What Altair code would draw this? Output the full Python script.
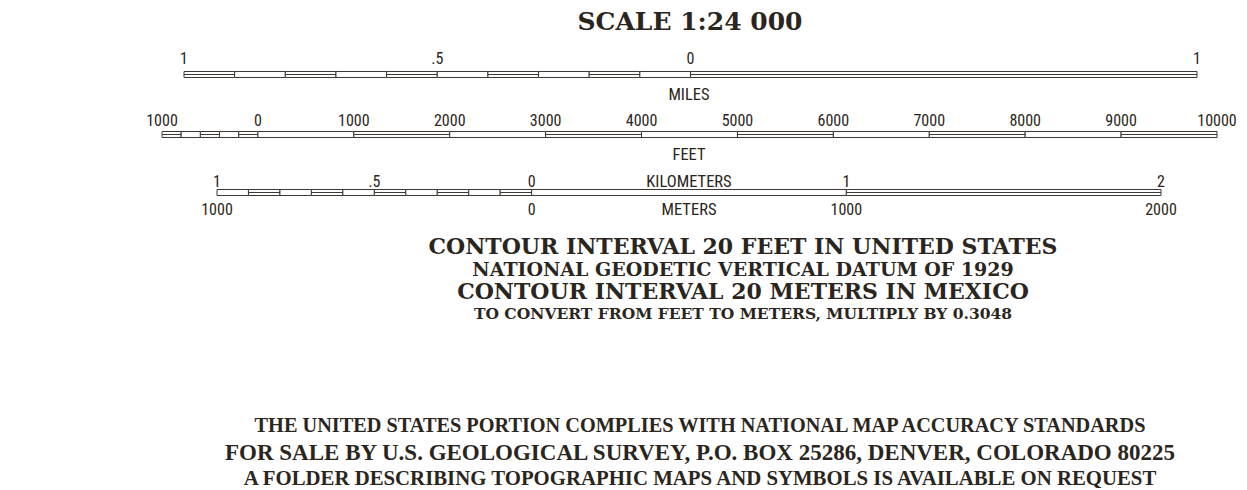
import altair as alt
import pandas as pd

# ------------------------------------------------------------------ data
MILE_BREAKS = [-1.0, -0.9, -0.8, -0.7, -0.6, -0.5, -0.4, -0.3, -0.2, -0.1, 0.0, 1.0]
MILE_DOUBLE = [1, 0, 1, 0, 1, 0, 1, 0, 1, 0, 1]
MILE_TICKS = [-1.0, -0.5, 0.0, 1.0]
MILE_LABELS = ["1", ".5", "0", "1"]

FEET_BREAKS = [-1000, -800, -600, -400, -200, 0, 1000, 2000, 3000, 4000,
               5000, 6000, 7000, 8000, 9000, 10000]
FEET_DOUBLE = [1, 0, 1, 0, 1, 0, 1, 0, 1, 0, 1, 0, 1, 0, 1]
FEET_TICKS = [-1000, 0, 1000, 2000, 3000, 4000, 5000, 6000, 7000, 8000, 9000, 10000]
FEET_LABELS = ["1000", "0", "1000", "2000", "3000", "4000", "5000", "6000",
               "7000", "8000", "9000", "10000"]

KM_BREAKS = [-1.0, -0.9, -0.8, -0.7, -0.6, -0.5, -0.4, -0.3, -0.2, -0.1, 0.0, 1.0, 2.0]
KM_DOUBLE = [0, 1, 0, 1, 0, 1, 0, 1, 0, 1, 0, 1]
KM_TICKS = [-1.0, -0.5, 0.0, 1.0, 2.0]
KM_LABELS = ["1", ".5", "0", "1", "2"]

M_TICKS = [-1000, 0, 1000, 2000]
M_LABELS = ["1000", "0", "1000", "2000"]

TITLE = "SCALE 1:24 000"
UNIT_NAMES = ["MILES", "FEET", "KILOMETERS", "METERS"]
NOTES = [
    "CONTOUR INTERVAL 20 FEET IN UNITED STATES",
    "NATIONAL GEODETIC VERTICAL DATUM OF 1929",
    "CONTOUR INTERVAL 20 METERS IN MEXICO",
    "TO CONVERT FROM FEET TO METERS, MULTIPLY BY 0.3048",
]
FOOTER = [
    "THE UNITED STATES PORTION COMPLIES WITH NATIONAL MAP ACCURACY STANDARDS",
    "FOR SALE BY U.S. GEOLOGICAL SURVEY, P.O. BOX 25286, DENVER, COLORADO 80225",
    "A FOLDER DESCRIBING TOPOGRAPHIC MAPS AND SYMBOLS IS AVAILABLE ON REQUEST",
]

# ------------------------------------------------------------------ style
INK = "#2b2520"
LINE = "#3d3833"
NARROW = "'Liberation Sans Narrow', 'Roboto Condensed', 'DejaVu Sans Condensed', 'Arial Narrow', sans-serif"
SERIF_B = "'DejaVu Serif', serif"
FOOT_FONT = "'Liberation Serif', serif"


def scale_bar(breaks, double, domain, rng, top, bottom):
    seg = pd.DataFrame({"a": breaks[:-1], "b": breaks[1:], "double": double})
    sc = alt.Scale(domain=domain, range=rng)
    base = alt.Chart(seg)
    rect = base.mark_rect(fill="white", stroke=LINE, strokeWidth=1).encode(
        x=alt.X("a:Q", scale=sc, axis=None),
        x2="b:Q",
        y=alt.value(top),
        y2=alt.value(bottom),
    )
    mid = base.transform_filter("datum.double == 1").mark_rule(
        color=LINE, strokeWidth=1
    ).encode(
        x=alt.X("a:Q", scale=sc, axis=None),
        x2="b:Q",
        y=alt.value((top + bottom) / 2),
    )
    return [rect, mid]


def tick_labels(ticks, labels, domain, rng, baseline_y, size=16):
    sc = alt.Scale(domain=domain, range=rng)
    df = pd.DataFrame({"v": ticks, "t": labels})
    return alt.Chart(df).mark_text(
        font=NARROW, fontSize=size, color=INK, baseline="alphabetic", align="center"
    ).encode(
        x=alt.X("v:Q", scale=sc, axis=None),
        y=alt.value(baseline_y),
        text="t:N",
    )


def centered_text(txt, x, y, font, size, weight="normal"):
    return alt.Chart(pd.DataFrame({"t": [txt]})).mark_text(
        font=font, fontSize=size, fontWeight=weight, color=INK,
        baseline="alphabetic", align="center",
    ).encode(x=alt.value(x), y=alt.value(y), text="t:N")


MILE_DOM, MILE_RNG = [-1.0, 1.0], [176, 1189]
FEET_DOM, FEET_RNG = [-1000, 10000], [154, 1209]
KM_DOM, KM_RNG = [-1.0, 2.0], [209, 1153]
M_DOM = [-1000, 2000]

layers = []
layers += scale_bar(MILE_BREAKS, MILE_DOUBLE, MILE_DOM, MILE_RNG, 63.5, 69.5)
layers.append(tick_labels(MILE_TICKS, MILE_LABELS, MILE_DOM, MILE_RNG, 56))
layers += scale_bar(FEET_BREAKS, FEET_DOUBLE, FEET_DOM, FEET_RNG, 123.5, 129.5)
layers.append(tick_labels(FEET_TICKS, FEET_LABELS, FEET_DOM, FEET_RNG, 118))
layers += scale_bar(KM_BREAKS, KM_DOUBLE, KM_DOM, KM_RNG, 181.5, 187.5)
layers.append(tick_labels(KM_TICKS, KM_LABELS, KM_DOM, KM_RNG, 179))
layers.append(tick_labels(M_TICKS, M_LABELS, M_DOM, KM_RNG, 207))

# unit names
for name, yb in zip(UNIT_NAMES, [92, 152, 179, 207]):
    layers.append(centered_text(name, 681, yb, NARROW, 16.5))

# title
layers.append(centered_text(TITLE, 682, 22, SERIF_B, 25, "bold"))

# notes
for txt, yb, sz in zip(NOTES, [246, 268, 291, 310.5], [22, 19, 22, 15.5]):
    layers.append(centered_text(txt, 735, yb, SERIF_B, sz, "bold"))

# footer
for txt, yb, sz in zip(FOOTER, [424, 451.5, 477], [20.3, 23, 20.8]):
    layers.append(centered_text(txt, 692, yb, FOOT_FONT, sz, "bold"))

chart = alt.layer(*layers).resolve_scale(x="independent").properties(
    width=1231,
    height=480,
    padding=0,
    autosize=alt.AutoSizeParams(type="none"),
    background="white",
).configure_view(stroke=None)

chart.save("out.html", embed_options={"renderer": "svg", "actions": False})
